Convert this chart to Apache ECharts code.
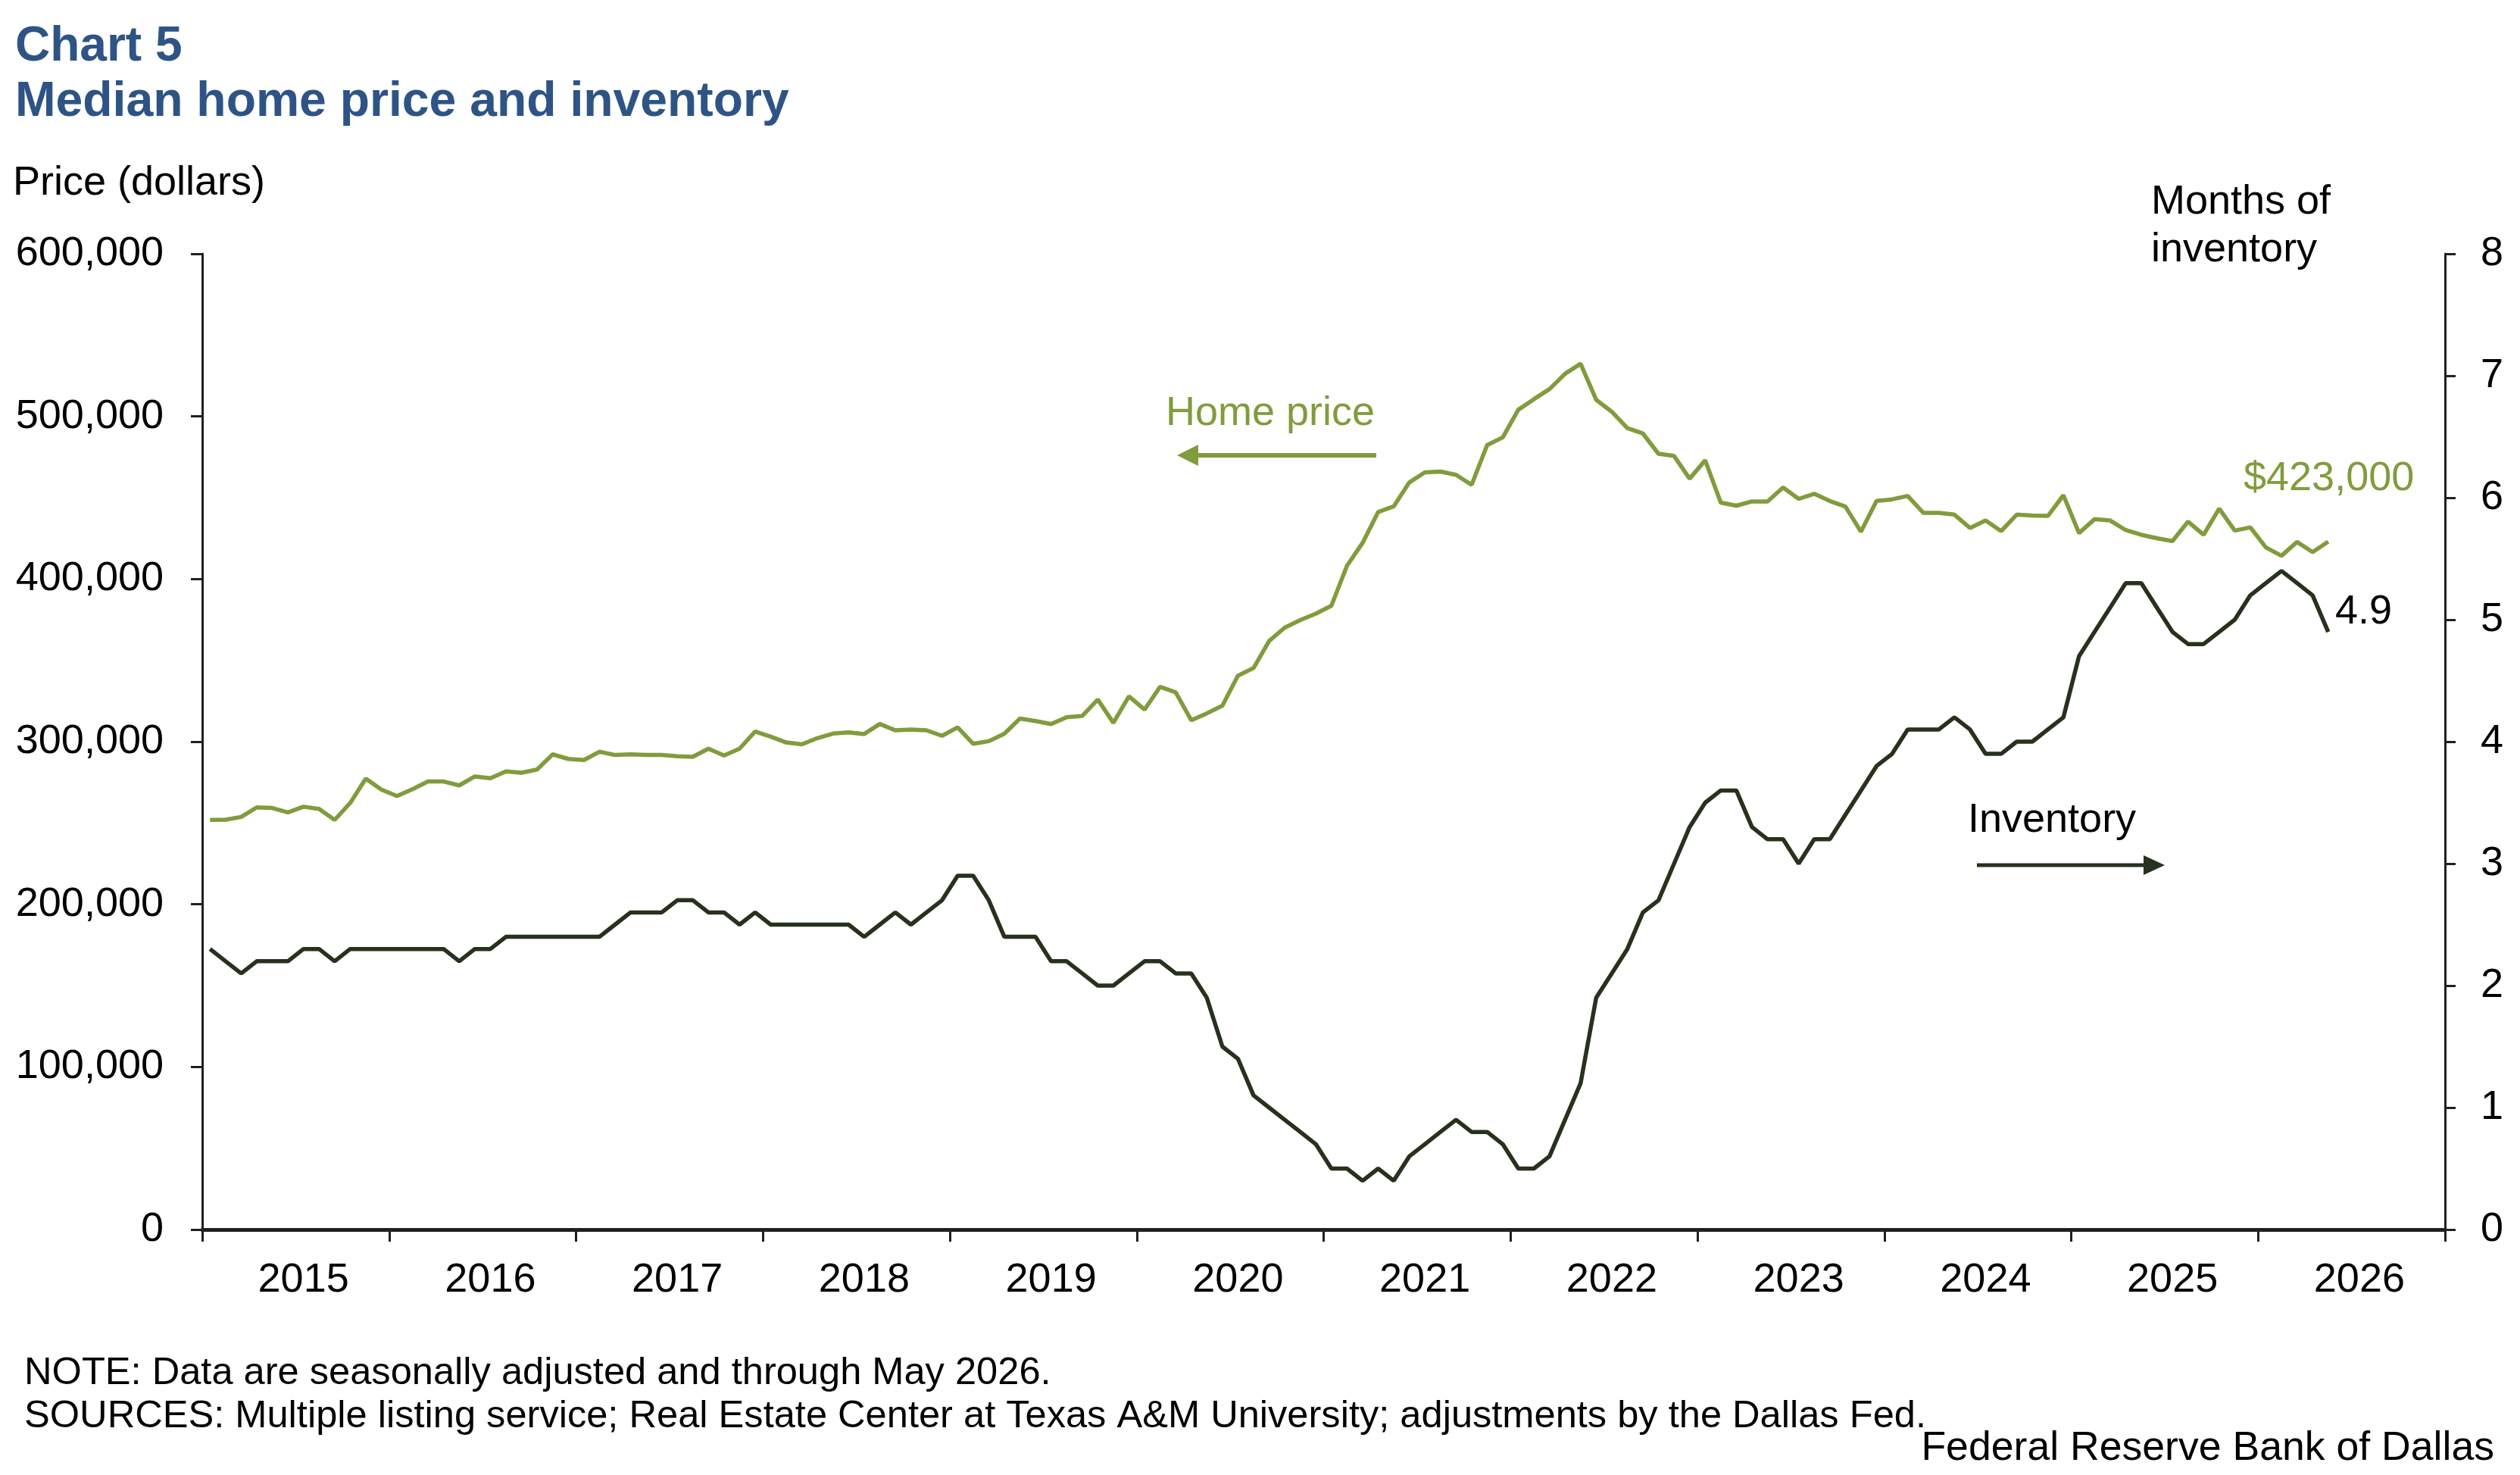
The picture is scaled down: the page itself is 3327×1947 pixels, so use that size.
<!DOCTYPE html>
<html>
<head>
<meta charset="utf-8">
<title>Median home price and inventory</title>
<script src="https://cdn.jsdelivr.net/npm/echarts@6/dist/echarts.min.js"></script>
<style>
  html, body { margin: 0; padding: 0; background: #fff; }
  #chart { width: 3327px; height: 1947px; }
</style>
</head>
<body>
<div id="chart"></div>
<script>
// Eje de tiempo: enero 2015 a diciembre 2026 (datos hasta mayo 2026)
const years = [2015, 2016, 2017, 2018, 2019, 2020, 2021, 2022, 2023, 2024, 2025, 2026];
const months = ['01', '02', '03', '04', '05', '06', '07', '08', '09', '10', '11', '12'];

// Precio mediano de vivienda (miles de dolares), mensual
const priceK = [
  251.9, 252.0, 253.7, 259.6, 259.2, 256.5, 260.0, 258.7, 251.9, 262.3, 277.3, 270.5,
  266.6, 270.8, 275.5, 275.5, 273.1, 278.6, 277.5, 281.7, 280.9, 282.9, 292.2, 289.4,
  288.7, 293.8, 291.8, 292.2, 291.8, 291.8, 291.0, 290.7, 295.7, 291.5, 295.7, 306.2,
  303.1, 299.5, 298.4, 302.2, 305.0, 305.7, 304.7, 310.9, 307.0, 307.5, 307.0, 303.6,
  308.8, 298.7, 300.3, 304.9, 314.2, 312.7, 310.8, 315.0, 315.8, 325.9, 311.6, 327.9,
  319.7, 333.7, 330.3, 313.2, 317.4, 322.1, 340.6, 345.3, 361.9, 370.1, 374.8, 378.7,
  383.6, 408.2, 422.2, 441.2, 444.7, 459.4, 465.6, 466.1, 464.1, 457.9, 482.4, 487.1,
  504.1, 510.6, 516.8, 526.2, 532.4, 510.2, 502.9, 492.8, 489.5, 477.0, 475.7, 461.7,
  473.0, 447.0, 445.1, 447.7, 447.7, 456.3, 449.3, 452.4, 448.0, 444.6, 429.1, 448.0,
  449.0, 451.1, 440.7, 440.7, 439.6, 431.4, 436.0, 429.5, 439.6, 439.1, 438.8, 451.5,
  428.3, 436.8, 436.0, 430.1, 427.2, 425.1, 423.3, 435.3, 427.2, 443.3, 429.8, 431.8,
  419.4, 414.3, 422.8, 416.6, 423.0
];

// Meses de inventario
const inventory = [
  2.3, 2.2, 2.1, 2.2, 2.2, 2.2, 2.3, 2.3, 2.2, 2.3, 2.3, 2.3,
  2.3, 2.3, 2.3, 2.3, 2.2, 2.3, 2.3, 2.4, 2.4, 2.4, 2.4, 2.4,
  2.4, 2.4, 2.5, 2.6, 2.6, 2.6, 2.7, 2.7, 2.6, 2.6, 2.5, 2.6,
  2.5, 2.5, 2.5, 2.5, 2.5, 2.5, 2.4, 2.5, 2.6, 2.5, 2.6, 2.7,
  2.9, 2.9, 2.7, 2.4, 2.4, 2.4, 2.2, 2.2, 2.1, 2.0, 2.0, 2.1,
  2.2, 2.2, 2.1, 2.1, 1.9, 1.5, 1.4, 1.1, 1.0, 0.9, 0.8, 0.7,
  0.5, 0.5, 0.4, 0.5, 0.4, 0.6, 0.7, 0.8, 0.9, 0.8, 0.8, 0.7,
  0.5, 0.5, 0.6, 0.9, 1.2, 1.9, 2.1, 2.3, 2.6, 2.7, 3.0, 3.3,
  3.5, 3.6, 3.6, 3.3, 3.2, 3.2, 3.0, 3.2, 3.2, 3.4, 3.6, 3.8,
  3.9, 4.1, 4.1, 4.1, 4.2, 4.1, 3.9, 3.9, 4.0, 4.0, 4.1, 4.2,
  4.7, 4.9, 5.1, 5.3, 5.3, 5.1, 4.9, 4.8, 4.8, 4.9, 5.0, 5.2,
  5.3, 5.4, 5.3, 5.2, 4.9
];

// Ticks de los ejes
const priceTicks = { min: 0, max: 600000, interval: 100000 };
const inventoryTicks = { min: 0, max: 8, interval: 1 };

const categories = [];
years.forEach(y => months.forEach(m => categories.push(y + '-' + m)));

const FONT = '"Liberation Sans", Arial, Helvetica, sans-serif';
const GREEN = '#809C3C';
const DARK = '#27311D';
const AXIS = '#231F20';
const BLUE = '#2E5486';

function txt(text, x, y, opts) {
  return {
    type: 'text', x: x, y: y, silent: true,
    style: Object.assign({
      text: text, fontFamily: FONT, fontSize: 54, fill: '#000',
      align: 'left', verticalAlign: 'middle'
    }, opts || {})
  };
}

const chart = echarts.init(document.getElementById('chart'));
chart.setOption({
  animation: false,
  backgroundColor: '#fff',
  grid: { left: 267, right: 99, top: 335, bottom: 324, outerBoundsMode: 'none' },
  xAxis: {
    type: 'category',
    data: categories,
    boundaryGap: true,
    axisLine: { show: true, lineStyle: { color: AXIS, width: 5 } },
    axisTick: { show: true, interval: i => i % 12 === 0, length: 16, lineStyle: { color: AXIS, width: 3 } },
    axisLabel: {
      interval: i => i % 12 === 6,
      formatter: v => v.slice(0, 4),
      margin: 40, color: '#000', fontSize: 54, fontFamily: FONT
    },
    splitLine: { show: false }
  },
  yAxis: [
    {
      type: 'value', position: 'left',
      min: priceTicks.min, max: priceTicks.max, interval: priceTicks.interval,
      axisLine: { show: true, lineStyle: { color: AXIS, width: 3 } },
      axisTick: { show: true, length: 15, lineStyle: { color: AXIS, width: 3 } },
      axisLabel: {
        margin: 51, color: '#000', fontSize: 54, fontFamily: FONT,
        formatter: v => v.toLocaleString('en-US')
      },
      splitLine: { show: false }
    },
    {
      type: 'value', position: 'right',
      min: inventoryTicks.min, max: inventoryTicks.max, interval: inventoryTicks.interval,
      axisLine: { show: true, lineStyle: { color: AXIS, width: 3 } },
      axisTick: { show: true, length: 14, lineStyle: { color: AXIS, width: 3 } },
      axisLabel: { margin: 47, color: '#000', fontSize: 54, fontFamily: FONT },
      splitLine: { show: false }
    }
  ],
  series: [
    {
      name: 'Home price', type: 'line', yAxisIndex: 0,
      data: priceK.map(v => v * 1000),
      showSymbol: false, symbol: 'none',
      lineStyle: { color: GREEN, width: 5.5 },
      itemStyle: { color: GREEN }
    },
    {
      name: 'Inventory', type: 'line', yAxisIndex: 1,
      data: inventory,
      showSymbol: false, symbol: 'none',
      lineStyle: { color: DARK, width: 5.5 },
      itemStyle: { color: DARK }
    }
  ],
  graphic: [
    txt('Chart 5', 20, 62, { fontSize: 64, fontWeight: 'bold', fill: BLUE }),
    txt('Median home price and inventory', 20, 135, { fontSize: 64.3, fontWeight: 'bold', fill: BLUE }),
    txt('Price (dollars)', 17, 242),
    txt('Months of', 2840, 267),
    txt('inventory', 2840, 330),
    txt('Home price', 1539, 546, { fill: GREEN }),
    { type: 'line', silent: true, shape: { x1: 1578, y1: 601, x2: 1817, y2: 601 },
      style: { stroke: GREEN, lineWidth: 6 } },
    { type: 'polygon', silent: true, shape: { points: [[1554, 601], [1582, 587], [1582, 615]] },
      style: { fill: GREEN } },
    txt('Inventory', 2598, 1083),
    { type: 'line', silent: true, shape: { x1: 2610, y1: 1142, x2: 2834, y2: 1142 },
      style: { stroke: DARK, lineWidth: 5 } },
    { type: 'polygon', silent: true, shape: { points: [[2858, 1142], [2830, 1129], [2830, 1155]] },
      style: { fill: DARK } },
    txt('$423,000', 2962, 632, { fill: GREEN }),
    txt('4.9', 3083, 808),
    txt('NOTE: Data are seasonally adjusted and through May 2026.', 32, 1813, { fontSize: 50.6 }),
    txt('SOURCES: Multiple listing service; Real Estate Center at Texas A&M University; adjustments by the Dallas Fed.', 32, 1870, { fontSize: 50.6 }),
    txt('Federal Reserve Bank of Dallas', 3293, 1912, { fontSize: 53.6, align: 'right' })
  ]
});
</script>
</body>
</html>
